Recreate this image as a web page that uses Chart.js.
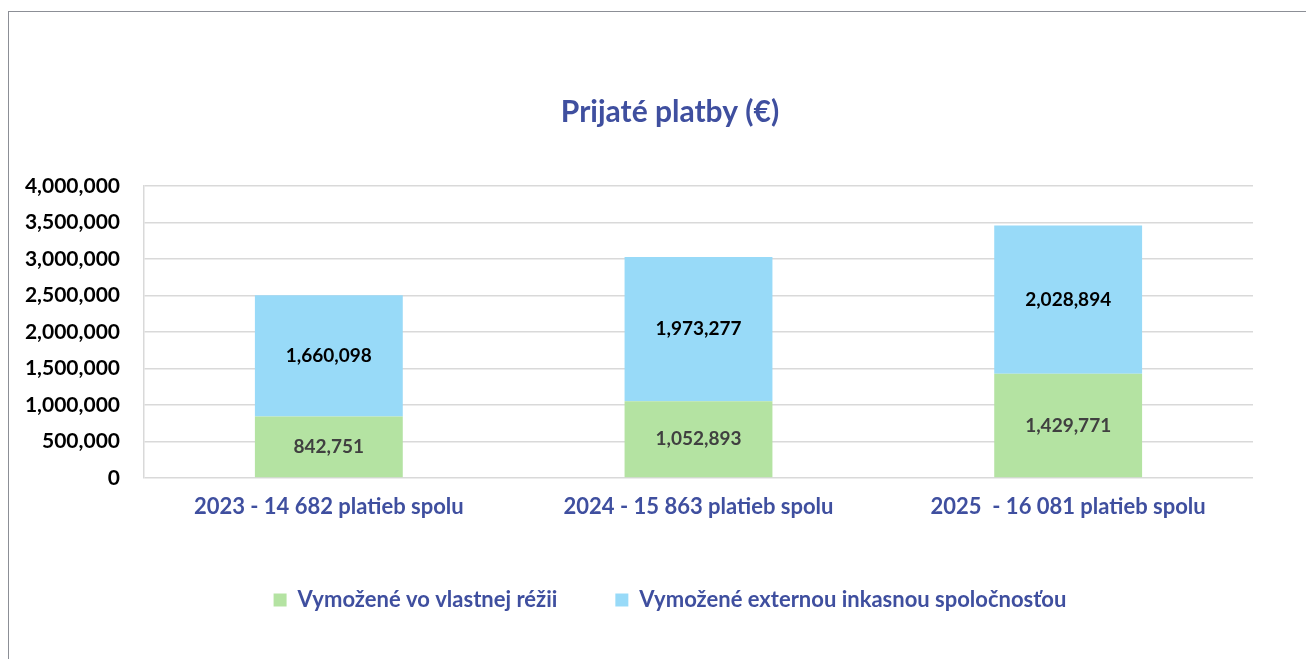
<!DOCTYPE html>
<html>
<head>
<meta charset="utf-8">
<script src="https://cdn.jsdelivr.net/npm/chart.js@4.4.1/dist/chart.umd.min.js"></script>
<style>
  html, body { margin: 0; padding: 0; background: #fff; overflow: hidden; }
  #wrap { position: relative; width: 1306px; height: 659px; overflow: hidden; }
  #frame { position: absolute; left: 8px; top: 11px; width: 1400px; height: 700px;
           border-left: 1.5px solid #8c8f96; border-top: 1.5px solid #8c8f96; pointer-events: none; }
  canvas { position: absolute; left: 0; top: 0; }
</style>
</head>
<body>
<div id="wrap">
  <canvas id="paymentsChart" width="1340" height="659"></canvas>
  <div id="frame"></div>
</div>
<script>
// Prijaté platby - data
const categories = ['2023 - 14 682 platieb spolu', '2024 - 15 863 platieb spolu', '2025  - 16 081 platieb spolu'];
const ownCollection = [842751, 1052893, 1429771];
const externalCollection = [1660098, 1973277, 2028894];
const seriesNames = ['Vymožené vo vlastnej réžii', 'Vymožené externou inkasnou spoločnosťou'];
const yTicks = [0, 500000, 1000000, 1500000, 2000000, 2500000, 3000000, 3500000, 4000000];

const navy = '#3f4f9f';
const fontFamily = 'Lato, "Open Sans", sans-serif';

// draws the value inside every bar segment
const barValueLabels = {
  id: 'barValueLabels',
  afterDatasetsDraw(chart) {
    const ctx = chart.ctx;
    ctx.save();
    ctx.font = 'bold 19px ' + fontFamily;
    ctx.textAlign = 'center';
    ctx.textBaseline = 'middle';
    chart.data.datasets.forEach((ds, i) => {
      const meta = chart.getDatasetMeta(i);
      ctx.fillStyle = ds.labelColor;
      meta.data.forEach((bar, j) => {
        const { x, y, base } = bar.getProps(['x', 'y', 'base'], true);
        ctx.fillText(ds.data[j].toLocaleString('en-US'), x, (y + base) / 2);
      });
    });
    ctx.restore();
  }
};

new Chart(document.getElementById('paymentsChart'), {
  type: 'bar',
  data: {
    labels: categories,
    datasets: [
      {
        label: seriesNames[0],
        data: ownCollection,
        backgroundColor: '#b4e3a2',
        labelColor: '#404040',
        barPercentage: 0.4,
        categoryPercentage: 1
      },
      {
        label: seriesNames[1],
        data: externalCollection,
        backgroundColor: '#98daf8',
        labelColor: '#000000',
        barPercentage: 0.4,
        categoryPercentage: 1
      }
    ]
  },
  options: {
    responsive: false,
    animation: false,
    layout: { padding: { left: 0, right: 0, top: 0, bottom: 38 } },
    plugins: {
      title: {
        display: true,
        text: 'Prijaté platby (€)',
        color: navy,
        font: { family: fontFamily, size: 30, weight: 'bold' },
        padding: { top: 94, bottom: 56 }
      },
      legend: {
        position: 'bottom',
        labels: {
          color: navy,
          font: { family: fontFamily, size: 22, weight: 'bold' },
          boxWidth: 13,
          boxHeight: 13,
          padding: 58
        }
      },
      tooltip: { enabled: false }
    },
    scales: {
      x: {
        stacked: true,
        grid: { display: false },
        border: { display: false },
        ticks: {
          color: navy,
          font: { family: fontFamily, size: 22, weight: 'bold' },
          padding: 8,
          maxRotation: 0
        },
        afterFit(scale) { scale.height = 53; }
      },
      y: {
        stacked: true,
        min: 0,
        max: 4000000,
        afterBuildTicks(scale) { scale.ticks = yTicks.map(v => ({ value: v })); },
        grid: { color: '#d9d9d9', lineWidth: 1.5, drawTicks: false },
        border: { display: true, color: '#d9d9d9', width: 1.5 },
        ticks: {
          color: '#000',
          font: { family: fontFamily, size: 21, weight: 'bold' },
          padding: 24,
          callback: v => v.toLocaleString('en-US')
        },
        afterFit(scale) { scale.width = 144; }
      },
      // empty right margin so the plot ends where the reference does
      yRight: {
        position: 'right',
        grid: { display: false },
        border: { display: false },
        ticks: { display: false },
        afterFit(scale) { scale.width = 1340 - 1253; }
      }
    }
  },
  plugins: [barValueLabels]
});
</script>
</body>
</html>
